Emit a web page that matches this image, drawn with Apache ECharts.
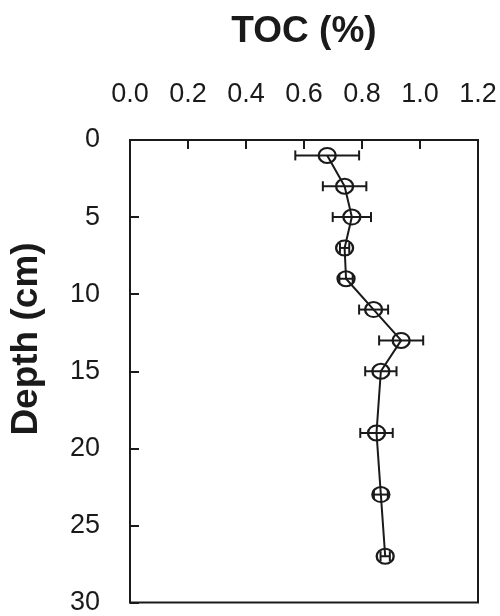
<!DOCTYPE html>
<html>
<head>
<meta charset="utf-8">
<script src="https://cdn.jsdelivr.net/npm/echarts@6/dist/echarts.min.js"></script>
<style>
  html, body { margin: 0; padding: 0; background: #fff; }
  #chart { width: 500px; height: 616px; }
</style>
</head>
<body>
<div id="chart"></div>
<script>
  // depth of each sample (cm), mean TOC (%) and its +/- error
  const depths = [1, 3, 5, 7, 9, 11, 13, 15, 19, 23, 27]
  const toc = [0.68, 0.74, 0.765, 0.74, 0.745, 0.84, 0.935, 0.865, 0.85, 0.865, 0.88]
  const tocErr = [0.11, 0.075, 0.066, 0.016, 0.023, 0.05, 0.076, 0.054, 0.056, 0.024, 0.016]
  const xTicks = [0, 0.2, 0.4, 0.6, 0.8, 1.0, 1.2]
  const yTicks = [0, 5, 10, 15, 20, 25, 30]

  const ink = '#1a1a1a'
  const font = 'Liberation Sans, Arial, sans-serif'

  const myChart = echarts.init(document.getElementById('chart'))

  let option = {
    animation: false,
    grid: {
      left: 130,
      right: 22,
      top: 140,
      bottom: 8,
      show: true,
      borderColor: ink,
      borderWidth: 2
    },
    xAxis: {
      type: 'value',
      position: 'top',
      min: xTicks[0],
      max: xTicks[xTicks.length - 1],
      interval: 0.2,
      name: 'TOC (%)',
      nameLocation: 'middle',
      nameGap: 90,
      nameTextStyle: {
        fontFamily: font,
        fontSize: 37,
        fontWeight: 'bold',
        color: ink
      },
      axisLine: { lineStyle: { color: ink, width: 2 } },
      axisTick: { inside: true, length: 9, lineStyle: { color: ink, width: 2 } },
      axisLabel: {
        margin: 32,
        fontFamily: font,
        fontSize: 27,
        color: ink,
        formatter: v => v.toFixed(1)
      },
      splitLine: { show: false }
    },
    yAxis: {
      type: 'value',
      inverse: true,
      min: yTicks[0],
      max: yTicks[yTicks.length - 1],
      interval: 5,
      axisLine: { lineStyle: { color: ink, width: 2 } },
      axisTick: { inside: true, length: 9, lineStyle: { color: ink, width: 2 } },
      axisLabel: {
        margin: 30,
        fontFamily: font,
        fontSize: 27,
        color: ink
      },
      splitLine: { show: false }
    },
    graphic: [{
      type: 'text',
      x: 27,
      y: 339,
      rotation: Math.PI / 2,
      style: {
        text: 'Depth (cm)',
        x: 0,
        y: 0,
        align: 'center',
        verticalAlign: 'middle',
        font: 'bold 37px ' + font,
        fill: ink
      }
    }],
    series: [{
      type: 'custom',
      name: 'error',
      data: depths.map((d, i) => [toc[i], d, tocErr[i]]),
      renderItem: (params, api) => {
        const x = api.value(0)
        const y = api.value(1)
        const e = api.value(2)
        const a = api.coord([x - e, y])
        const b = api.coord([x + e, y])
        const cap = 5
        const style = { stroke: ink, lineWidth: 2 }
        return {
          type: 'group',
          children: [
            { type: 'line', shape: { x1: a[0], y1: a[1], x2: b[0], y2: b[1] }, style },
            { type: 'line', shape: { x1: a[0], y1: a[1] - cap, x2: a[0], y2: a[1] + cap }, style },
            { type: 'line', shape: { x1: b[0], y1: b[1] - cap, x2: b[0], y2: b[1] + cap }, style }
          ]
        }
      },
      z: 2
    }, {
      type: 'line',
      name: 'TOC',
      data: depths.map((d, i) => [toc[i], d]),
      symbol: 'circle',
      symbolSize: [17, 15],
      showAllSymbol: true,
      lineStyle: { color: ink, width: 2 },
      itemStyle: { color: 'transparent', borderColor: ink, borderWidth: 2.2 },
      z: 3
    }]
  }
  myChart.setOption(option)
</script>
</body>
</html>
